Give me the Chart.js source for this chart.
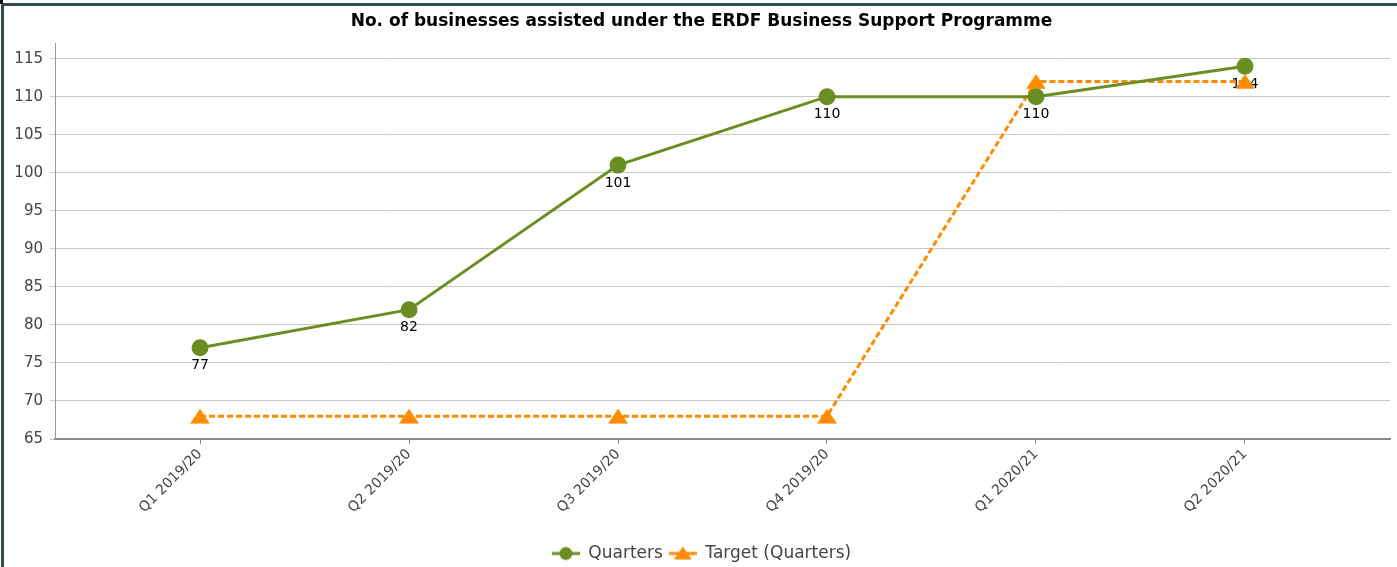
<!DOCTYPE html>
<html>
<head>
<meta charset="utf-8">
<script src="https://cdn.jsdelivr.net/npm/chart.js@4.4.0/dist/chart.umd.min.js"></script>
<style>
  html, body { margin: 0; padding: 0; background: #fff; overflow: hidden; }
  #wrap { position: relative; width: 1397px; height: 567px; overflow: hidden; }
  #chart { position: absolute; left: 0; top: 0; }
  #frameTop { position: absolute; left: 1px; top: 3px; width: 1396px; height: 3px; background: #2f4f4f; }
  #frameLeft { position: absolute; left: 1px; top: 3px; width: 3px; height: 564px; background: #2f4f4f; }
  #corner { position: absolute; left: 0; top: 0; width: 3px; height: 4px; background: #111; }
</style>
</head>
<body>
<div id="wrap">
  <canvas id="chart"></canvas>
  <div id="frameTop"></div>
  <div id="frameLeft"></div>
  <div id="corner"></div>
</div>
<script>
const categories = ["Q1 2019/20", "Q2 2019/20", "Q3 2019/20", "Q4 2019/20", "Q1 2020/21", "Q2 2020/21"];
const quarters = [77, 82, 101, 110, 110, 114];
const target = [68, 68, 68, 68, 112, 112];
const yTicks = [65, 70, 75, 80, 85, 90, 95, 100, 105, 110, 115];

const green = "#6b8e23";
const orange = "#ff8c00";
const font = "DejaVu Sans";

// little legend markers: line with the point on it
function legendMarker(color, shape) {
  const c = document.createElement("canvas");
  c.width = 28; c.height = 16;
  const g = c.getContext("2d");
  g.strokeStyle = color; g.fillStyle = color; g.lineWidth = 3;
  g.beginPath(); g.moveTo(0, 8); g.lineTo(28, 8); g.stroke();
  g.beginPath();
  if (shape === "circle") {
    g.arc(14, 8, 6.5, 0, Math.PI * 2);
  } else {
    g.moveTo(14, 1); g.lineTo(23, 14); g.lineTo(5, 14); g.closePath();
  }
  g.fill();
  return c;
}

// triangle marker centred on the point, like the original
function triangleMarker(color) {
  const c = document.createElement("canvas");
  c.width = 20; c.height = 16;
  const g = c.getContext("2d");
  g.fillStyle = color;
  g.beginPath(); g.moveTo(10, 0.5); g.lineTo(20, 15.5); g.lineTo(0, 15.5); g.closePath();
  g.fill();
  return c;
}

const valueLabels = {
  id: "valueLabels",
  beforeDatasetsDraw(chart) {
    const ctx = chart.ctx;
    const meta = chart.getDatasetMeta(0);
    ctx.save();
    ctx.font = "14px '" + font + "'";
    ctx.fillStyle = "#000";
    ctx.textAlign = "center";
    ctx.textBaseline = "middle";
    meta.data.forEach((pt, i) => {
      ctx.fillText(String(quarters[i]), pt.x, pt.y + 18);
    });
    ctx.restore();
  }
};

// canvas is a bit wider than the window; the spare strip on the right is hidden
const canvas = document.getElementById("chart");
canvas.width = 1403; canvas.height = 567;
canvas.style.width = "1403px"; canvas.style.height = "567px";

new Chart(canvas, {
  type: "line",
  data: {
    datasets: [
      {
        label: "Quarters",
        data: quarters.map((v, i) => ({ x: i, y: v })),
        borderColor: green,
        backgroundColor: green,
        borderWidth: 3,
        pointStyle: "circle",
        pointRadius: 7,
        pointHoverRadius: 7,
        tension: 0,
      },
      {
        label: "Target (Quarters)",
        data: target.map((v, i) => ({ x: i, y: v })),
        borderColor: orange,
        backgroundColor: orange,
        borderWidth: 3,
        borderDash: [6, 3],
        pointStyle: triangleMarker(orange),
        pointRadius: 10,
        pointHoverRadius: 10,
        tension: 0,
      },
    ],
  },
  options: {
    responsive: false,
    animation: false,
    layout: { padding: { left: 0, right: 0, top: 0, bottom: -5 } },
    scales: {
      x: {
        type: "linear",
        min: -0.694,
        max: 5.694,
        afterBuildTicks: (scale) => {
          scale.ticks = categories.map((_, i) => ({ value: i }));
        },
        afterFit: (scale) => {
          scale.height = 100;
          scale.paddingLeft = 0;
          scale.paddingRight = 0;
        },
        ticks: {
          callback: (v) => categories[v],
          maxRotation: 45,
          minRotation: 45,
          autoSkip: false,
          color: "#444",
          font: { family: font, size: 14 },
          padding: 2,
        },
        grid: { drawOnChartArea: false, drawTicks: true, tickLength: 5, color: "#888" },
        border: { display: true, color: "#888", width: 2 },
      },
      y: {
        min: 65,
        max: 117,
        afterBuildTicks: (scale) => {
          scale.ticks = yTicks.map((v) => ({ value: v }));
        },
        afterFit: (scale) => { scale.width = 55; },
        ticks: {
          color: "#444",
          font: { family: font, size: 15 },
          padding: 7,
        },
        grid: { color: "#c8c8c8", lineWidth: 1, tickLength: 5 },
        border: { display: true, color: "#999", width: 1 },
      },
    },
    plugins: {
      title: {
        display: true,
        text: "No. of businesses assisted under the ERDF Business Support Programme",
        color: "#000",
        font: { family: font, size: 17, weight: "bold", lineHeight: 1.2 },
        padding: { top: 11, bottom: 12 },
      },
      legend: {
        position: "bottom",
        labels: {
          color: "#444",
          font: { family: font, size: 17 },
          usePointStyle: true,
          pointStyleWidth: 28,
          padding: 6,
          generateLabels: () => [
            { text: "Quarters", pointStyle: legendMarker(green, "circle"), fillStyle: green, strokeStyle: green, lineWidth: 0, datasetIndex: 0, fontColor: "#444" },
            { text: "Target (Quarters)", pointStyle: legendMarker(orange, "triangle"), fillStyle: orange, strokeStyle: orange, lineWidth: 0, datasetIndex: 1, fontColor: "#444" },
          ],
        },
      },
      tooltip: { enabled: false },
    },
  },
  plugins: [valueLabels],
});
</script>
</body>
</html>
